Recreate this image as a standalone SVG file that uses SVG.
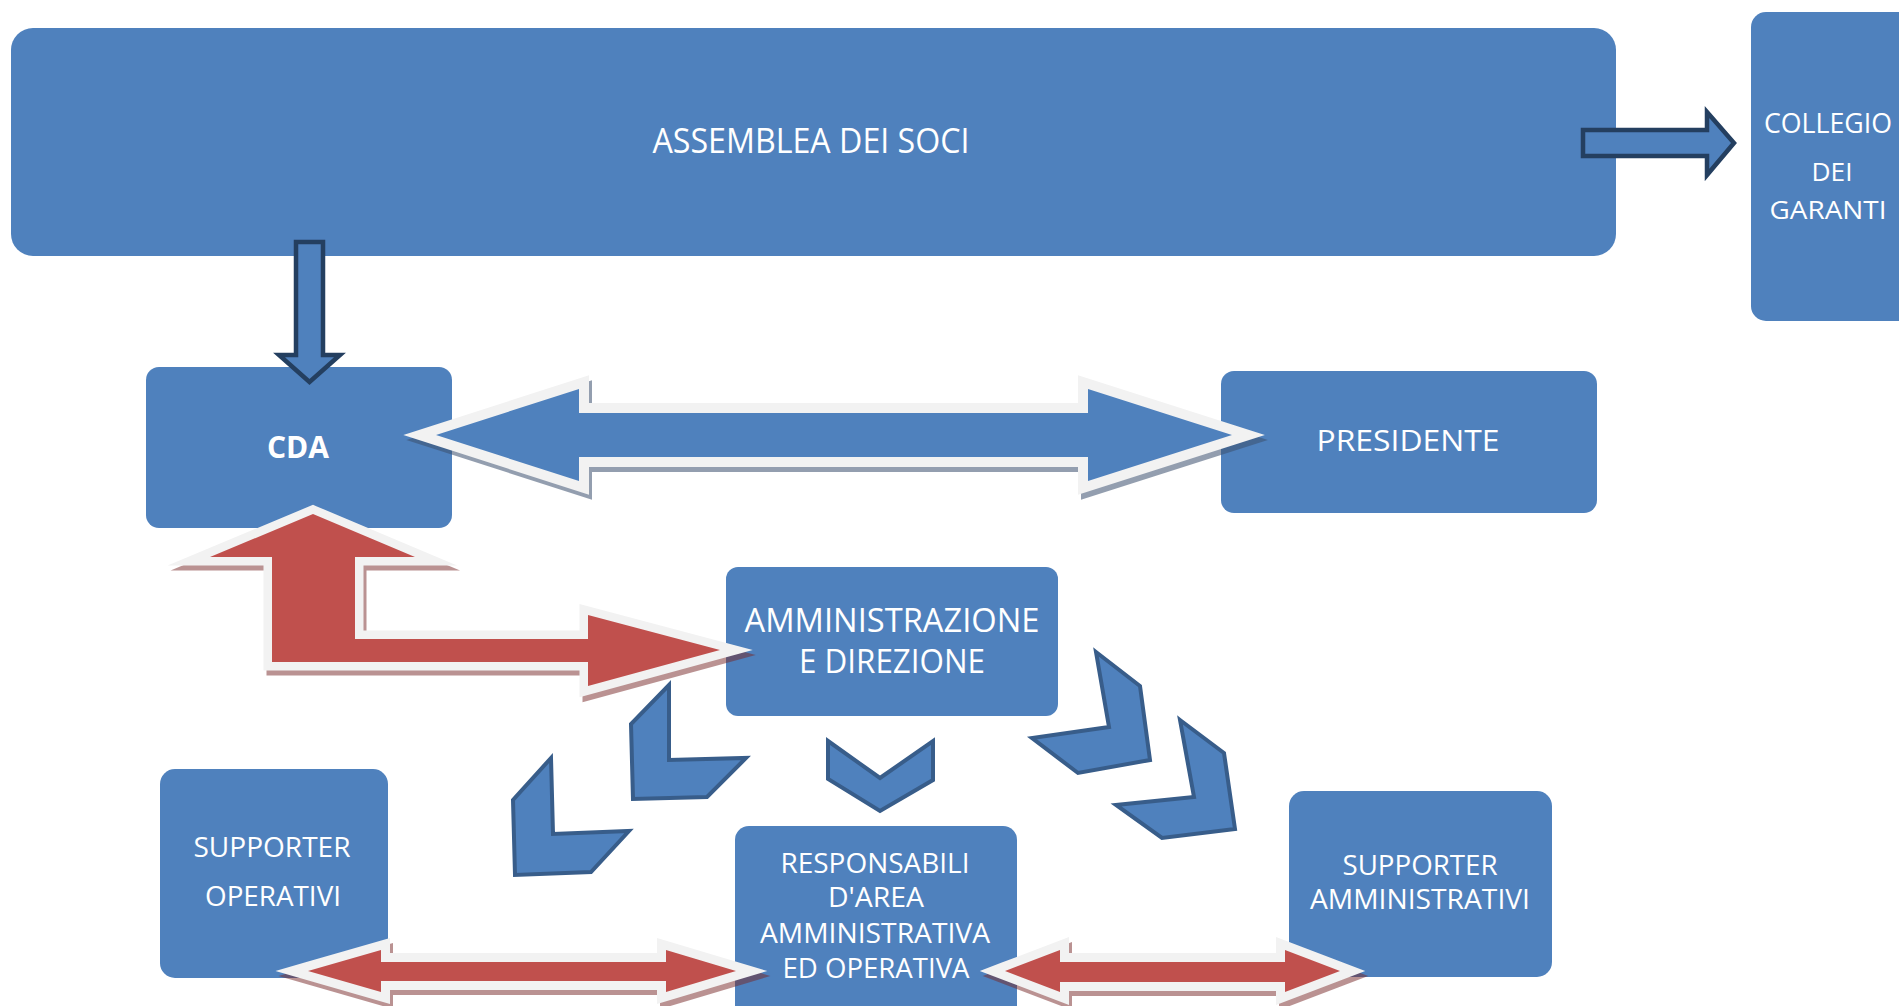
<svg xmlns="http://www.w3.org/2000/svg" width="1899" height="1006" viewBox="0 0 1899 1006">
<defs>
<style>
.box{fill:#4F81BD;}
.t{font-family:"Open Sans",Lato,"Liberation Sans",sans-serif;fill:#FFFFFF;text-anchor:middle;}
.navy{fill:#4F81BD;stroke:#243F60;stroke-width:4.5;stroke-linejoin:miter;}
.chev{fill:#4F81BD;stroke:#385D8A;stroke-width:4;stroke-linejoin:miter;}
.bl{fill:#4F81BD;stroke:#F2F2F2;stroke-width:20;paint-order:stroke;stroke-linejoin:miter;stroke-miterlimit:6;}
.rd{fill:#C0504D;stroke:#F2F2F2;stroke-width:18;paint-order:stroke;stroke-linejoin:miter;stroke-miterlimit:6;}
.rdL{fill:#C0504D;stroke:#F2F2F2;stroke-width:17;paint-order:stroke;stroke-linejoin:miter;stroke-miterlimit:6;}
.shB{fill:#3C506E;stroke:#3C506E;stroke-width:20;stroke-linejoin:miter;stroke-miterlimit:6;opacity:0.55;}
.shR{fill:#782828;stroke:#782828;stroke-width:18;stroke-linejoin:miter;stroke-miterlimit:6;opacity:0.5;}
</style>
</defs>
<rect width="1899" height="1006" fill="#FFFFFF"/>
<g id="nodes">
<g id="assemblea">
<rect class="box" x="11" y="28" width="1605" height="228" rx="22"/>
<text class="t" x="811" y="153" font-size="34" textLength="317" lengthAdjust="spacingAndGlyphs">ASSEMBLEA DEI SOCI</text>
</g>
<g id="collegio">
<rect class="box" x="1751" y="12" width="170" height="309" rx="15"/>
<text class="t" x="1828" y="133" font-size="27" textLength="128" lengthAdjust="spacingAndGlyphs">COLLEGIO</text>
<text class="t" x="1832" y="181" font-size="25" textLength="41" lengthAdjust="spacingAndGlyphs">DEI</text>
<text class="t" x="1828" y="219" font-size="25" textLength="117" lengthAdjust="spacingAndGlyphs">GARANTI</text>
</g>
<g id="cda">
<rect class="box" x="146" y="367" width="306" height="161" rx="13"/>
<text class="t" x="298" y="458" font-size="31" font-weight="bold" textLength="62" lengthAdjust="spacingAndGlyphs">CDA</text>
</g>
<g id="presidente">
<rect class="box" x="1221" y="371" width="376" height="142" rx="13"/>
<text class="t" x="1408" y="451" font-size="29" textLength="183" lengthAdjust="spacingAndGlyphs">PRESIDENTE</text>
</g>
<g id="amministrazione">
<rect class="box" x="726" y="567" width="332" height="149" rx="12"/>
<text class="t" x="892" y="632" font-size="32" textLength="295" lengthAdjust="spacingAndGlyphs">AMMINISTRAZIONE</text>
<text class="t" x="892" y="673" font-size="32" textLength="186" lengthAdjust="spacingAndGlyphs">E DIREZIONE</text>
</g>
<g id="supporter-operativi">
<rect class="box" x="160" y="769" width="228" height="209" rx="15"/>
<text class="t" x="272" y="857" font-size="28" textLength="157" lengthAdjust="spacingAndGlyphs">SUPPORTER</text>
<text class="t" x="273" y="906" font-size="28" textLength="136" lengthAdjust="spacingAndGlyphs">OPERATIVI</text>
</g>
<g id="responsabili">
<rect class="box" x="735" y="826" width="282" height="200" rx="14"/>
<text class="t" x="875" y="873" font-size="26.5" textLength="189" lengthAdjust="spacingAndGlyphs">RESPONSABILI</text>
<text class="t" x="876" y="907" font-size="26.5" textLength="96" lengthAdjust="spacingAndGlyphs">D'AREA</text>
<text class="t" x="875" y="943" font-size="26.5" textLength="230" lengthAdjust="spacingAndGlyphs">AMMINISTRATIVA</text>
<text class="t" x="876" y="978" font-size="26.5" textLength="187" lengthAdjust="spacingAndGlyphs">ED OPERATIVA</text>
</g>
<g id="supporter-amministrativi">
<rect class="box" x="1289" y="791" width="263" height="186" rx="15"/>
<text class="t" x="1420" y="875" font-size="26.5" textLength="155" lengthAdjust="spacingAndGlyphs">SUPPORTER</text>
<text class="t" x="1420" y="909" font-size="26.5" textLength="220" lengthAdjust="spacingAndGlyphs">AMMINISTRATIVI</text>
</g>
</g>
<g id="connectors">
<polygon class="navy" points="1583,130 1707,130 1707,112 1734,143 1707,175 1707,156 1583,156"/>
<polygon class="navy" points="296,242 323,242 323,355 340,355 309.5,382 279,355 296,355"/>
<g id="cda-presidente">
<polygon class="shB" transform="translate(3,5)" points="436,435 579,389 579,413 1088,413 1088,389 1232,435 1088,481 1088,457 579,457 579,481"/>
<polygon class="bl" points="436,435 579,389 579,413 1088,413 1088,389 1232,435 1088,481 1088,457 579,457 579,481"/>
</g>
<g id="cda-amministrazione">
<polygon class="shR" style="stroke-width:17" transform="translate(3,5)" points="313,514 415,557 355,557 355,639 588,639 588,615 720,650 588,686 588,662 272,662 272,557 210,557"/>
<polygon class="rdL" points="313,514 415,557 355,557 355,639 588,639 588,615 720,650 588,686 588,662 272,662 272,557 210,557"/>
</g>
<g id="chevrons">
<polygon class="chev" points="828,741 880,778 933,741 933,780 880,811 828,779"/>
<polygon class="chev" points="669,685 669,760 746,758 707,797 633,799 631,724"/>
<polygon class="chev" points="551,758 553,834 629,831 591,872 515,875 513,800"/>
<polygon class="chev" points="1096,652 1140,686 1150,760 1078,773 1032,738 1109,727"/>
<polygon class="chev" points="1180,720 1224,753 1235,829 1162,838 1116,805 1194,797"/>
</g>
<g id="operativi-responsabili">
<polygon class="shR" transform="translate(3,5)" points="308,971 381,950 381,962 666,962 666,950 736,971 666,992 666,981 381,981 381,992"/>
<polygon class="rd" points="308,971 381,950 381,962 666,962 666,950 736,971 666,992 666,981 381,981 381,992"/>
</g>
<g id="responsabili-amministrativi">
<polygon class="shR" transform="translate(3,5)" points="1005,971 1060,950 1060,962 1285,962 1285,950 1340,971 1285,992 1285,982 1060,982 1060,992"/>
<polygon class="rd" points="1005,971 1060,950 1060,962 1285,962 1285,950 1340,971 1285,992 1285,982 1060,982 1060,992"/>
</g>
</g>
</svg>
